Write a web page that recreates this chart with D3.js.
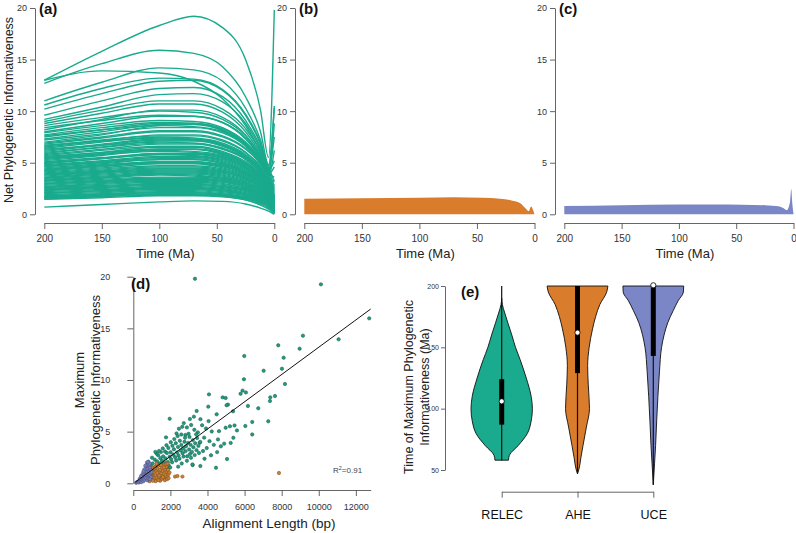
<!DOCTYPE html>
<html>
<head>
<meta charset="utf-8">
<script src="https://cdn.jsdelivr.net/npm/d3@7"></script>
<style>
  body { margin: 0; background: #fff; }
  text { font-family: "Liberation Sans", Arial, sans-serif; }
</style>
</head>
<body>
<div id="chart"></div>
<script>
/* * * * * * * * * * * * * * * * * *
 *            chart data           *
 * * * * * * * * * * * * * * * * * */

// shared ticks
const timeTicks = [200, 150, 100, 50, 0];
const piTicks = [0, 5, 10, 15, 20];

// (a) RELEC curves, each row read at these times (Ma)
const curveTimes = [200, 150, 100, 70, 45, 25, 12, 5, 0];
const relecCurves = [
    [13.0, 15.8, 18.3, 19.2, 18.1, 15.0, 10.1, 5.5, 19.8],
    [12.7, 14.6, 15.9, 15.6, 14.3, 11.4, 8.0, 4.8, 10.5],
    [13.0, 13.9, 13.7, 12.9, 11.2, 8.6, 6.1, 4.5, 3.2],
    [11.0, 12.8, 14.2, 14.0, 12.9, 10.3, 7.2, 4.6, 10.3],
    [10.6, 12.2, 13.2, 13.1, 12.1, 9.7, 6.9, 4.4, 7.5],
    [10.2, 11.7, 12.9, 13.0, 12.0, 9.6, 6.8, 4.5, 2.6],
    [9.6, 11.0, 12.2, 12.3, 11.4, 9.1, 6.5, 4.3, 5.2],
    [9.2, 10.4, 11.6, 11.7, 10.9, 8.8, 6.3, 4.2, 1.8],
    [9.0, 10.1, 11.0, 11.0, 10.2, 8.3, 6.0, 4.0, 8.8],
    [8.8, 9.8, 10.7, 10.7, 9.9, 8.0, 5.8, 4.0, 3.6],
    [8.6, 9.4, 10.0, 9.9, 9.2, 7.6, 5.6, 3.9, 1.2],
    [8.4, 9.1, 9.6, 9.5, 8.9, 7.4, 5.5, 3.8, 6.2],
    [8.2, 9.2, 10.1, 10.1, 9.4, 7.7, 5.6, 3.9, 4.6],
    [8.0, 8.8, 9.5, 9.5, 8.9, 7.3, 5.4, 3.8, 1.0],
    [7.9, 8.6, 9.1, 9.0, 8.4, 7.0, 5.3, 3.7, 2.2],
    [7.7, 8.4, 8.9, 8.8, 8.3, 6.9, 5.2, 3.6, 0.9],
    [7.6, 8.2, 8.6, 8.5, 8.0, 6.7, 5.1, 3.6, 2.4],
    [7.5, 8.2, 8.8, 8.8, 8.2, 6.8, 5.1, 3.6, 3.1],
    [7.3, 8.0, 8.7, 8.8, 8.2, 6.8, 5.1, 3.5, 0.7],
    [7.2, 7.8, 8.4, 8.4, 7.9, 6.6, 5.0, 3.5, 1.5],
    [7.0, 7.7, 8.6, 8.7, 8.1, 6.7, 5.0, 3.4, 2.8],
    [6.9, 7.5, 8.1, 8.1, 7.6, 6.4, 4.9, 3.4, 1.6],
    [6.8, 7.4, 8.0, 8.0, 7.5, 6.3, 4.8, 3.3, 0.6],
    [6.7, 7.1, 7.4, 7.3, 6.8, 5.7, 4.3, 3.0, 1.6],
    [6.6, 7.2, 7.6, 7.6, 7.1, 6.0, 4.6, 3.2, 2.0],
    [6.5, 7.1, 7.7, 7.7, 7.2, 6.0, 4.5, 3.1, 0.7],
    [6.4, 7.0, 7.5, 7.4, 6.9, 5.8, 4.4, 3.1, 1.1],
    [6.3, 6.7, 7.0, 6.9, 6.4, 5.4, 4.1, 2.9, 1.3],
    [6.2, 6.8, 7.3, 7.2, 6.7, 5.6, 4.3, 3.0, 2.5],
    [6.1, 6.7, 7.2, 7.2, 6.7, 5.6, 4.2, 2.9, 2.9],
    [6.0, 6.5, 6.9, 6.9, 6.4, 5.4, 4.1, 2.9, 0.4],
    [5.9, 6.5, 7.1, 7.1, 6.6, 5.5, 4.2, 2.9, 1.8],
    [5.8, 6.3, 6.8, 6.8, 6.3, 5.3, 4.0, 2.8, 0.5],
    [5.7, 6.2, 6.6, 6.6, 6.1, 5.1, 3.9, 2.8, 0.8],
    [5.6, 6.0, 6.3, 6.3, 5.9, 4.9, 3.8, 2.7, 1.7],
    [5.5, 6.0, 6.5, 6.5, 6.0, 5.0, 3.8, 2.7, 1.4],
    [5.45, 5.9, 6.3, 6.3, 5.9, 4.9, 3.7, 2.6, 0.9],
    [5.4, 5.8, 6.1, 6.0, 5.6, 4.7, 3.6, 2.6, 0.3],
    [5.3, 5.8, 6.3, 6.3, 5.8, 4.9, 3.7, 2.6, 2.4],
    [5.2, 5.7, 6.2, 6.1, 5.7, 4.8, 3.7, 2.6, 2.2],
    [5.1, 5.5, 5.9, 5.9, 5.5, 4.6, 3.5, 2.5, 0.2],
    [5.0, 5.4, 5.8, 5.8, 5.4, 4.5, 3.5, 2.5, 0.9],
    [4.95, 5.4, 5.8, 5.7, 5.3, 4.5, 3.4, 2.4, 1.2],
    [4.9, 5.4, 5.9, 5.9, 5.5, 4.6, 3.5, 2.5, 1.6],
    [4.8, 5.2, 5.6, 5.6, 5.2, 4.4, 3.4, 2.4, 0.7],
    [4.7, 5.1, 5.4, 5.4, 5.0, 4.2, 3.3, 2.4, 0.5],
    [4.65, 5.0, 5.3, 5.3, 4.9, 4.1, 3.2, 2.3, 1.8],
    [4.6, 5.1, 5.5, 5.5, 5.1, 4.3, 3.3, 2.3, 1.3],
    [4.5, 4.9, 5.3, 5.3, 4.9, 4.1, 3.2, 2.2, 0.4],
    [4.4, 4.8, 5.1, 5.1, 4.8, 4.0, 3.1, 2.2, 0.2],
    [4.35, 4.7, 5.0, 5.0, 4.7, 3.9, 3.0, 2.2, 1.1],
    [4.25, 4.7, 5.1, 5.1, 4.7, 3.9, 3.0, 2.1, 0.3],
    [4.2, 4.6, 5.0, 5.0, 4.6, 3.9, 3.0, 2.1, 1.0],
    [4.1, 4.5, 4.9, 4.9, 4.5, 3.8, 2.9, 2.1, 1.9],
    [4.0, 4.4, 4.7, 4.7, 4.4, 3.7, 2.9, 2.0, 1.4],
    [3.9, 4.3, 4.6, 4.6, 4.3, 3.6, 2.8, 2.0, 0.6],
    [3.85, 4.2, 4.5, 4.5, 4.2, 3.5, 2.7, 1.9, 0.8],
    [3.8, 4.1, 4.4, 4.4, 4.1, 3.5, 2.7, 1.9, 1.2],
    [3.7, 4.1, 4.4, 4.4, 4.1, 3.5, 2.7, 1.9, 0.2],
    [3.6, 4.0, 4.3, 4.3, 4.0, 3.4, 2.6, 1.9, 0.3],
    [3.55, 3.9, 4.2, 4.2, 3.9, 3.3, 2.6, 1.8, 1.0],
    [3.5, 3.8, 4.1, 4.1, 3.8, 3.2, 2.5, 1.8, 0.9],
    [3.4, 3.7, 4.0, 4.0, 3.7, 3.1, 2.4, 1.7, 0.5],
    [3.3, 3.6, 3.9, 3.9, 3.6, 3.1, 2.4, 1.7, 1.5],
    [3.25, 3.6, 3.9, 3.8, 3.5, 3.0, 2.3, 1.7, 1.3],
    [3.2, 3.5, 3.8, 3.7, 3.5, 2.9, 2.3, 1.7, 0.4],
    [3.1, 3.4, 3.6, 3.6, 3.4, 2.9, 2.2, 1.6, 0.2],
    [3.0, 3.3, 3.5, 3.5, 3.3, 2.8, 2.2, 1.6, 0.7],
    [2.95, 3.2, 3.5, 3.5, 3.2, 2.7, 2.1, 1.5, 0.9],
    [2.9, 3.2, 3.4, 3.4, 3.2, 2.7, 2.1, 1.5, 1.1],
    [2.8, 3.1, 3.3, 3.3, 3.1, 2.6, 2.0, 1.5, 0.4],
    [2.7, 3.0, 3.2, 3.2, 3.0, 2.5, 2.0, 1.4, 0.2],
    [2.65, 2.9, 3.1, 3.1, 2.9, 2.5, 1.9, 1.4, 1.0],
    [2.6, 2.8, 3.0, 3.0, 2.8, 2.4, 1.9, 1.4, 0.8],
    [2.5, 2.7, 2.9, 2.9, 2.7, 2.3, 1.8, 1.3, 0.3],
    [2.4, 2.7, 2.9, 2.9, 2.7, 2.3, 1.8, 1.3, 0.5],
    [2.35, 2.6, 2.8, 2.8, 2.6, 2.2, 1.7, 1.2, 0.7],
    [2.3, 2.5, 2.7, 2.7, 2.5, 2.1, 1.7, 1.2, 0.1],
    [2.2, 2.4, 2.6, 2.6, 2.4, 2.0, 1.6, 1.1, 0.2],
    [2.1, 2.3, 2.5, 2.5, 2.3, 2.0, 1.6, 1.2, 0.6],
    [2.05, 2.3, 2.5, 2.5, 2.3, 1.9, 1.5, 1.1, 0.5],
    [2.0, 2.2, 2.4, 2.4, 2.2, 1.9, 1.5, 1.1, 0.3],
    [1.9, 2.1, 2.3, 2.3, 2.1, 1.8, 1.4, 1.0, 0.1],
    [1.8, 2.0, 2.2, 2.2, 2.0, 1.7, 1.4, 1.0, 0.1],
    [1.75, 1.95, 2.1, 2.1, 1.95, 1.65, 1.3, 0.9, 0.3],
    [1.7, 1.9, 2.1, 2.1, 1.9, 1.6, 1.3, 0.9, 0.4],
    [1.65, 1.85, 2.0, 2.0, 1.85, 1.55, 1.2, 0.85, 0.1],
    [1.6, 1.8, 1.9, 1.9, 1.8, 1.5, 1.2, 0.8, 0.1],
    [1.55, 1.75, 1.9, 1.9, 1.8, 1.5, 1.1, 0.7, 0.2],
    [1.5, 1.7, 1.9, 1.9, 1.75, 1.4, 0.9, 0.5, 0.1],
    [1.45, 1.6, 1.8, 1.8, 1.7, 1.4, 1.0, 0.6, 0.1],
    [0.7, 0.95, 1.2, 1.3, 1.25, 1.0, 0.6, 0.3, 0.0]
];

// (b) AHE band, upper envelope
const aheTimes = [200, 150, 100, 70, 45, 30, 20, 12, 8, 5, 3, 1.5, 0];
const aheUpper = [1.5, 1.55, 1.6, 1.65, 1.6, 1.5, 1.35, 1.05, 0.6, 0.3, 0.75, 0.5, 0.0];

// (c) UCE band, upper envelope
const uceTimes = [200, 150, 100, 70, 45, 25, 12, 9, 6, 3, 2, 1, 0];
const uceUpper = [0.8, 0.88, 0.95, 0.95, 0.93, 0.88, 0.75, 0.6, 0.4, 1.2, 2.45, 1.0, 0.05];

// (d) alignment length (bp) vs maximum PI
const scatterRelec = [
    [3325, 19.8], [10117, 19.26], [12720, 15.97], [11070, 13.94], [9147, 14.29], [8968, 13.03],
    [7816, 13.36], [8106, 12.16], [5983, 12.32], [8015, 11.09], [7028, 10.9], [8177, 9.61],
    [5965, 10.07], [4080, 8.61], [4818, 8.32], [4980, 8.26], [5891, 8.97], [6071, 8.8],
    [5783, 8.67], [7638, 8.45], [7386, 8.32], [7368, 7.96], [6738, 7.26], [6180, 7.49],
    [5104, 7.62], [5032, 7.56], [4043, 7.42], [3417, 7.0], [1962, 6.25], [3052, 6.22],
    [3267, 6.45], [4495, 6.68], [5377, 6.97], [7278, 6.0], [6413, 5.94], [6413, 4.73],
    [5054, 2.35], [4459, 1.51], [3615, 1.67], [3202, 1.76], [5395, 4.41], [4566, 4.25],
    [5251, 3.91], [1765, 4.45], [5210, 5.52], [4980, 5.38], [5460, 5.6], [4230, 5.02],
    [3920, 5.31], [3710, 5.62], [3480, 4.93], [3290, 5.18], [3120, 5.64], [2890, 5.41],
    [2640, 5.47], [2460, 5.28], [2330, 4.83], [2590, 4.72], [2810, 4.68], [3030, 4.49],
    [3390, 4.74], [3820, 4.42], [4110, 4.08], [4340, 3.72], [4720, 3.58], [3960, 3.41],
    [3580, 3.93], [3760, 3.12], [4190, 2.71], [3840, 2.38], [4520, 3.02], [4900, 3.84],
    [5590, 5.12], [6040, 5.55], [4620, 5.05], [4060, 6.02], [3620, 6.21], [2720, 5.83],
    [1040, 1.92], [1160, 2.28], [1210, 1.63], [1290, 2.12], [1340, 2.71], [1410, 1.88],
    [1460, 2.43], [1490, 3.02], [1560, 2.18], [1610, 2.61], [1640, 1.79], [1710, 3.08],
    [1740, 2.41], [1810, 2.93], [1860, 2.07], [1890, 3.42], [1960, 2.58], [2010, 3.01],
    [2040, 2.33], [2110, 3.63], [2160, 2.77], [2190, 3.29], [2260, 2.52], [2290, 3.88],
    [2360, 2.98], [2410, 3.52], [2440, 2.69], [2510, 4.12], [2560, 3.18], [2590, 3.71],
    [2660, 2.91], [2690, 3.38], [2760, 4.02], [2810, 3.11], [2840, 3.58], [2910, 2.62],
    [2960, 3.91], [3010, 3.27], [3060, 2.83], [3090, 3.72], [3160, 3.04], [3210, 4.18],
    [3240, 3.49], [3310, 2.73], [3340, 3.87], [3410, 3.21], [3440, 4.39], [3510, 3.62],
    [3540, 2.94], [3610, 4.01], [1260, 2.87], [1510, 2.02], [1690, 1.98], [1910, 1.72],
    [2090, 2.04], [2310, 2.21], [2490, 2.38], [2710, 2.59], [2890, 2.18], [3110, 2.47],
    [1590, 3.38], [1790, 3.69], [2020, 3.98], [2210, 4.28], [2390, 4.57], [1990, 1.53],
    [2610, 1.92], [1390, 3.13], [1120, 1.41], [960, 1.62], [1010, 2.48], [1190, 3.04],
    [2790, 4.41], [2980, 4.79], [3190, 1.83], [2420, 1.61], [1830, 1.42]
];
const scatterAhe = [
    [7853, 1.0], [2250, 0.65], [2380, 0.7], [2650, 0.65],
    [720, 0.5], [780, 0.8], [820, 0.3], [860, 1.0], [900, 0.6], [940, 1.3], [980, 0.4],
    [1010, 0.9], [1050, 1.5], [1080, 0.7], [1110, 1.1], [1150, 0.35], [1180, 1.6], [1210, 0.8],
    [1240, 1.2], [1270, 0.5], [1300, 1.4], [1330, 0.9], [1360, 1.7], [1390, 0.6], [1420, 1.1],
    [1450, 1.3], [1480, 0.4], [1510, 0.95], [1540, 1.5], [1570, 0.7], [1600, 1.2], [1630, 1.8],
    [1660, 0.55], [1690, 1.0], [1720, 1.35], [1750, 0.8], [1780, 1.6], [1810, 1.1], [1840, 0.65],
    [1870, 1.3], [1900, 0.9], [1250, 1.9], [1450, 0.25], [1000, 1.2], [1150, 1.45], [1350, 0.3],
    [1550, 0.45], [1700, 0.3], [1820, 0.4], [950, 0.9], [1100, 0.55], [1300, 1.0], [1500, 1.75],
    [1650, 1.55], [1200, 0.2], [1400, 0.75], [1600, 0.6], [1750, 1.85], [1850, 1.9], [1050, 0.25],
    [1900, 0.5], [1950, 1.05], [1000, 0.65], [880, 0.2]
];
const scatterUce = [
    [150, 0.05], [200, 0.1], [250, 0.15], [300, 0.08], [320, 0.25], [380, 0.2], [400, 0.4],
    [430, 0.12], [460, 0.5], [480, 0.3], [520, 0.65], [540, 0.2], [560, 0.45], [580, 0.85],
    [600, 0.35], [620, 1.0], [640, 0.6], [660, 1.3], [680, 0.8], [700, 1.6], [720, 1.1],
    [740, 2.0], [760, 1.4], [780, 1.8], [800, 0.9], [820, 2.1], [840, 1.2], [860, 1.7],
    [880, 0.7], [900, 1.5], [920, 1.0], [940, 1.3], [960, 0.6], [980, 1.1], [700, 0.5],
    [750, 0.3], [650, 1.7], [820, 0.45], [880, 1.9], [600, 1.35], [500, 0.9], [550, 1.15],
    [780, 2.05], [900, 0.4], [350, 0.45], [420, 0.7]
];
const fitLine = [[100, 0.1], [12800, 16.87]];
const lengthTicks = [0, 2000, 4000, 6000, 8000, 10000, 12000];

// (e) time of maximum PI: violin outlines [Ma, relative half-width]
const markerTypes = ["RELEC", "AHE", "UCE"];
const relecViolin = [[190, 0], [185, 0.02], [178, 0.1], [170, 0.2], [160, 0.33], [150, 0.45], [140, 0.6],
    [125, 0.8], [110, 0.96], [100, 1.0], [90, 0.96], [80, 0.84], [70, 0.54], [62, 0.25], [58, 0.22]];
const aheViolin = [[200, 0.99], [195, 0.95], [185, 0.73], [175, 0.59], [165, 0.49], [150, 0.38], [135, 0.33],
    [120, 0.35], [100, 0.39], [85, 0.29], [70, 0.18], [60, 0.11], [50, 0.04], [47, 0]];
const uceViolin = [[200, 0.99], [195, 0.98], [188, 0.81], [180, 0.65], [170, 0.47], [160, 0.35], [150, 0.27],
    [130, 0.2], [110, 0.15], [90, 0.11], [70, 0.075], [55, 0.04], [38, 0]];
// min, q1, median, q3, max
const relecBox = [58, 87, 106, 124, 200];
const aheBox = [47, 129, 162, 200, 200];
const uceBox = [38, 143, 200.6, 200, 200];
const timeMaxTicks = [50, 100, 150, 200];

const colors = {RELEC: "#1aaa8d", AHE: "#d97c2c", UCE: "#7a86c6"};


/* * * * * * * * * * * * * * * * * *
 *             drawing             *
 * * * * * * * * * * * * * * * * * */

const svg = d3.select("#chart").append("svg")
    .attr("width", 796)
    .attr("height", 533);

svg.append("rect").attr("width", 796).attr("height", 533).attr("fill", "#fff");

// R-like axis styling
function styleAxis(g, fontSize) {
    g.select(".domain").attr("stroke", "#555").attr("stroke-width", 0.9);
    g.selectAll(".tick line").attr("stroke", "#555").attr("stroke-width", 0.9);
    g.selectAll(".tick text")
        .attr("fill", "#333")
        .style("font-size", fontSize + "px")
        .style("font-family", "'Liberation Sans', Arial, sans-serif");
}

function panelLabel(x, y, txt) {
    svg.append("text")
        .attr("x", x).attr("y", y)
        .style("font-size", "15px")
        .style("font-weight", "bold")
        .attr("fill", "#111")
        .text(txt);
}

// one time panel (a, b, c)
function timePanel(axisX, x200, x0, label) {
    let x = d3.scaleLinear().domain([200, 0]).range([x200, x0]);
    let y = d3.scaleLinear().domain([0, 20]).range([214.3, 8]);

    let gy = svg.append("g")
        .attr("transform", `translate(${axisX},0)`)
        .call(d3.axisLeft(y).tickValues(piTicks).tickSize(5).tickPadding(3).tickSizeOuter(0));
    styleAxis(gy, 9);

    let gx = svg.append("g")
        .attr("transform", "translate(0,223)")
        .call(d3.axisBottom(x).tickValues(timeTicks).tickSize(6).tickPadding(6).tickSizeOuter(0));
    styleAxis(gx, 10);

    svg.append("text")
        .attr("x", (x200 + x0) / 2 + 6).attr("y", 258)
        .attr("text-anchor", "middle")
        .style("font-size", "13px")
        .attr("fill", "#222")
        .text("Time (Ma)");

    panelLabel(axisX + 4, 14, label);
    return {x: x, y: y};
}

// (a)
let pa = timePanel(35, 44.3, 274.3, "(a)");
let lineA = d3.line()
    .x((d, i) => pa.x(curveTimes[i]))
    .y(d => pa.y(d))
    .curve(d3.curveMonotoneX);
svg.append("g").selectAll("path")
    .data(relecCurves)
    .enter()
    .append("path")
    .attr("d", d => lineA(d))
    .attr("fill", "none")
    .attr("stroke", colors.RELEC)
    .attr("stroke-width", 1.4);

svg.append("text")
    .attr("transform", "translate(12.5,110) rotate(-90)")
    .attr("text-anchor", "middle")
    .style("font-size", "12.5px")
    .attr("fill", "#222")
    .text("Net Phylogenetic Informativeness");

// (b)
let pb = timePanel(295, 304.3, 534.5, "(b)");
svg.append("path")
    .datum(aheUpper)
    .attr("d", d3.area()
        .x((d, i) => pb.x(aheTimes[i]))
        .y0(pb.y(0))
        .y1(d => pb.y(d))
        .curve(d3.curveMonotoneX))
    .attr("fill", colors.AHE);

// (c)
let pc = timePanel(555, 564.3, 793.5, "(c)");
svg.append("path")
    .datum(uceUpper)
    .attr("d", d3.area()
        .x((d, i) => pc.x(uceTimes[i]))
        .y0(pc.y(0))
        .y1(d => pc.y(d))
        .curve(d3.curveMonotoneX))
    .attr("fill", colors.UCE);

// (d) scatter
let xd = d3.scaleLinear().domain([0, 12800]).range([133.3, 370.7]);
let yd = d3.scaleLinear().domain([0, 20]).range([483.3, 276.7]);

let gdy = svg.append("g")
    .attr("transform", "translate(133.3,0)")
    .call(d3.axisLeft(yd).tickValues(piTicks).tickSize(6).tickPadding(17).tickSizeOuter(0));
styleAxis(gdy, 9);
let gdx = svg.append("g")
    .attr("transform", "translate(0,490)")
    .call(d3.axisBottom(xd).tickValues(lengthTicks).tickFormat(d3.format("d"))
        .tickSize(6).tickPadding(8).tickSizeOuter(0));
styleAxis(gdx, 9);

let pointSets = [
    {data: scatterRelec, fill: "#229a7f", stroke: "#125b4b"},
    {data: scatterAhe, fill: "#c98033", stroke: "#7b4d1f"},
    {data: scatterUce, fill: "#7880b8", stroke: "#474d7d"}
];
pointSets.forEach(set => {
    svg.append("g").selectAll("circle")
        .data(set.data)
        .enter()
        .append("circle")
        .attr("cx", d => xd(d[0]))
        .attr("cy", d => yd(d[1]))
        .attr("r", 1.7)
        .attr("fill", set.fill)
        .attr("stroke", set.stroke)
        .attr("stroke-width", 0.5);
});

svg.append("path")
    .datum(fitLine)
    .attr("d", d3.line().x(d => xd(d[0])).y(d => yd(d[1])))
    .attr("stroke", "#111")
    .attr("stroke-width", 1)
    .attr("fill", "none");

let r2 = svg.append("text")
    .attr("x", 333).attr("y", 473)
    .style("font-size", "8px")
    .attr("fill", "#444");
r2.append("tspan").text("R");
r2.append("tspan").attr("dy", -3).style("font-size", "5.5px").text("2");
r2.append("tspan").attr("dy", 3).text("=0.91");

svg.append("text")
    .attr("x", 269).attr("y", 528)
    .attr("text-anchor", "middle")
    .style("font-size", "13.5px")
    .attr("fill", "#222")
    .text("Alignment Length (bp)");

let dLab = svg.append("text")
    .attr("transform", "translate(100,380) rotate(-90)")
    .attr("text-anchor", "middle")
    .style("font-size", "13px")
    .attr("fill", "#222");
dLab.append("tspan").attr("x", 0).attr("dy", -16).text("Maximum");
dLab.append("tspan").attr("x", 0).attr("dy", 16).text("Phylogenetic Informativeness");

panelLabel(131, 289, "(d)");

// (e) violins
let xe = d3.scalePoint().domain(markerTypes).range([501.7, 653.3]);
let ye = d3.scaleLinear().domain([50, 200]).range([470, 286]);
let we = d3.scaleLinear().domain([0, 1]).range([0, 30.7]);

let gey = svg.append("g")
    .attr("transform", "translate(445,0)")
    .call(d3.axisLeft(ye).tickValues(timeMaxTicks).tickSize(4).tickPadding(2).tickSizeOuter(0));
styleAxis(gey, 7);

let gex = svg.append("g")
    .attr("transform", "translate(0,491.7)")
    .call(d3.axisBottom(xe).tickSize(6).tickPadding(12).tickSizeOuter(0));
styleAxis(gex, 12.5);
gex.selectAll(".tick text").attr("fill", "#111");

let violins = [
    {key: "RELEC", outline: relecViolin, box: relecBox},
    {key: "AHE", outline: aheViolin, box: aheBox},
    {key: "UCE", outline: uceViolin, box: uceBox}
];
violins.forEach(v => {
    let cx = xe(v.key);
    svg.append("path")
        .datum(v.outline)
        .attr("d", d3.area()
            .y(d => ye(d[0]))
            .x0(d => cx - we(d[1]))
            .x1(d => cx + we(d[1]))
            .curve(d3.curveMonotoneY))
        .attr("fill", colors[v.key])
        .attr("stroke", "#111")
        .attr("stroke-width", 0.9);

    // whisker, box, median
    svg.append("line")
        .attr("x1", cx).attr("x2", cx)
        .attr("y1", ye(v.box[0])).attr("y2", ye(v.box[4]))
        .attr("stroke", "#111").attr("stroke-width", 1.2);
    svg.append("line")
        .attr("x1", cx).attr("x2", cx)
        .attr("y1", ye(v.box[1])).attr("y2", ye(v.box[3]))
        .attr("stroke", "#000").attr("stroke-width", 5);
    svg.append("circle")
        .attr("cx", cx).attr("cy", ye(v.box[2]))
        .attr("r", 2.6)
        .attr("fill", "#fff")
        .attr("stroke", "#000")
        .attr("stroke-width", 0.8);
});

let eLab = svg.append("text")
    .attr("transform", "translate(420,387) rotate(-90)")
    .attr("text-anchor", "middle")
    .style("font-size", "12.5px")
    .attr("fill", "#222");
eLab.append("tspan").attr("x", 0).attr("dy", -7).text("Time of Maximum Phylogenetic");
eLab.append("tspan").attr("x", 0).attr("dy", 15.5).text("Informativeness (Ma)");

panelLabel(461, 297, "(e)");
</script>
</body>
</html>
